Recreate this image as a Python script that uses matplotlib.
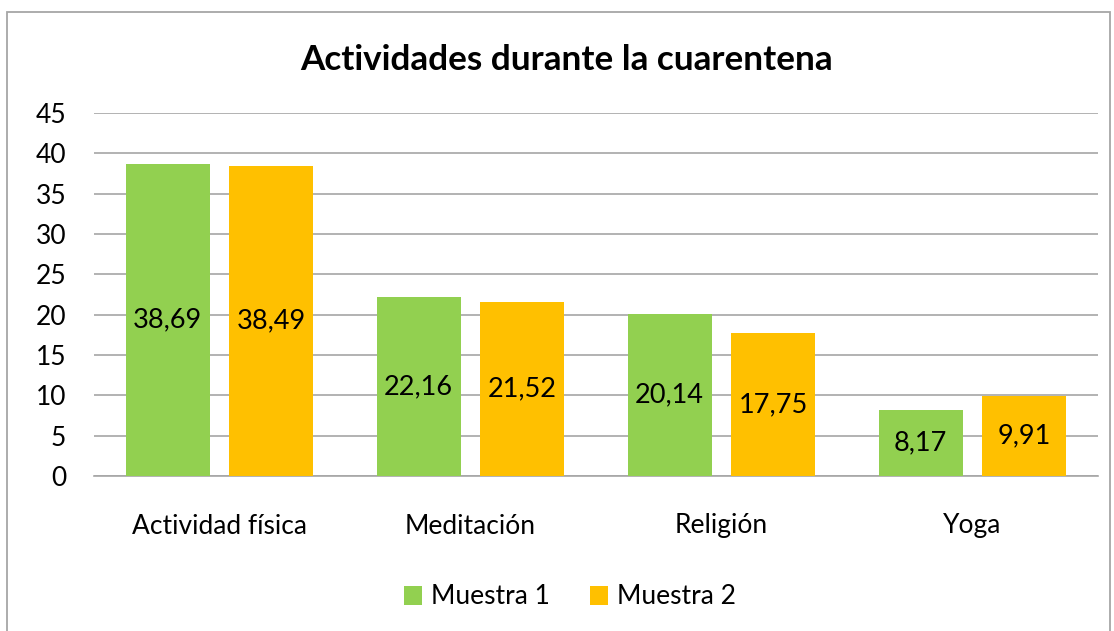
import matplotlib
matplotlib.use("Agg")
import matplotlib.pyplot as plt
from matplotlib.patches import Rectangle
import numpy as np

categories = ["Actividad física", "Meditación", "Religión", "Yoga"]
muestra1 = [38.69, 22.16, 20.14, 8.17]
muestra2 = [38.49, 21.52, 17.75, 9.91]
series_names = ["Muestra 1", "Muestra 2"]
yticks = [0, 5, 10, 15, 20, 25, 30, 35, 40, 45]

plt.rcParams['font.family'] = ['Lato', 'DejaVu Sans']

W, H = 1114, 631
fig = plt.figure(figsize=(W / 100, H / 100), dpi=100)
fig.patch.set_facecolor("white")

# outer chart border
fig.patches.append(Rectangle((7 / W, -0.1), (1110 - 7) / W, (H - 12) / H + 0.1,
                             transform=fig.transFigure, fill=False,
                             edgecolor="#a6a6a6", linewidth=1.3))

left, right = 94, 1098
top, bottom = 113, 476
ax = fig.add_axes([left / W, 1 - bottom / H, (right - left) / W, (bottom - top) / H])

x = np.arange(len(categories))
bw = 0.335
off = 0.207
colors = ["#92D050", "#FFC000"]
b1 = ax.bar(x - off, muestra1, bw, color=colors[0], label=series_names[0], zorder=3)
b2 = ax.bar(x + off, muestra2, bw, color=colors[1], label=series_names[1], zorder=3)

for bars, vals in ((b1, muestra1), (b2, muestra2)):
    for rect, v in zip(bars, vals):
        ax.text(rect.get_x() + rect.get_width() / 2, v / 2, f"{v:.2f}".replace(".", ","),
                ha="center", va="center", fontsize=19.5, color="black", zorder=4)

ax.set_xlim(-0.5, len(categories) - 0.5)
ax.set_ylim(0, 45)
ax.set_yticks(yticks)
ax.set_yticklabels([str(t) for t in yticks], fontsize=19)
ax.set_xticks(x)
ax.set_xticklabels(categories, fontsize=19)
ax.tick_params(axis="both", length=0)
ax.tick_params(axis="y", pad=20)
ax.tick_params(axis="x", pad=27)
ax.grid(axis="y", color="#a6a6a6", linewidth=1.2, zorder=0)
for s in ["top", "right", "left"]:
    ax.spines[s].set_visible(False)
ax.spines["bottom"].set_color("#a6a6a6")
ax.spines["bottom"].set_linewidth(1.2)

fig.text(567 / W, 1 - 60 / H, "Actividades durante la cuarentena", ha="center", va="center",
         fontsize=25.3, fontweight="bold")

fig.legend(handles=[b1, b2], labels=series_names, loc="center", bbox_to_anchor=(570 / W, 1 - 597 / H),
           ncol=2, frameon=False, fontsize=19, handlelength=0.7, handleheight=0.7,
           handletextpad=0.35, columnspacing=1.5)

fig.savefig("out.png", dpi=100, facecolor="white")
